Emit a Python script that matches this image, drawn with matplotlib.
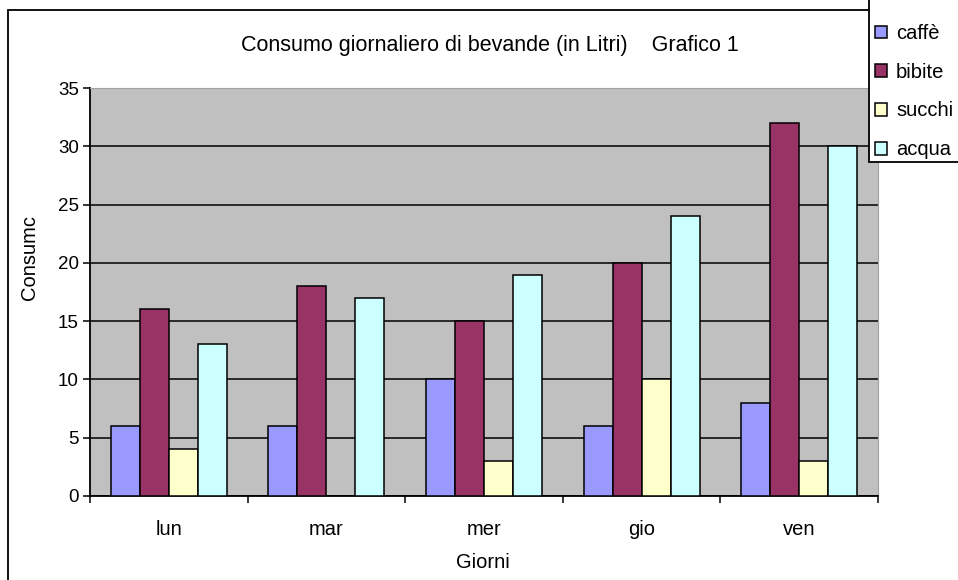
import matplotlib
matplotlib.use("Agg")
import matplotlib.pyplot as plt
from matplotlib.patches import Rectangle, Patch
import numpy as np

plt.rcParams['font.family'] = ['Liberation Sans', 'DejaVu Sans']

giorni = ["lun", "mar", "mer", "gio", "ven"]
serie = ["caffè", "bibite", "succhi", "acqua"]
caffe = [6, 6, 10, 6, 8]
bibite = [16, 18, 15, 20, 32]
succhi = [4, 0, 3, 10, 3]
acqua = [13, 17, 19, 24, 30]
colori = ["#9999FF", "#993366", "#FFFFCC", "#CCFFFF"]
y_ticks = [0, 5, 10, 15, 20, 25, 30, 35]

FS_TICK = 13.5
FS = 14.5
W, H = 958, 580
fig = plt.figure(figsize=(W / 100, H / 100), dpi=100)
fig.patch.set_facecolor("white")

# outer chart frame (extends past right/bottom edges)
fig.patches.append(Rectangle((8 / W, -0.05), 1.2, 1 - 10 / H + 0.05,
                             transform=fig.transFigure, fill=False,
                             edgecolor="black", linewidth=1.3, zorder=0))

ax = fig.add_axes([90 / W, (H - 496) / H, 788 / W, 408 / H])
ax.set_facecolor("#C0C0C0")

x = np.arange(len(giorni)) + 0.5
bw = 0.184
valori = [caffe, bibite, succhi, acqua]
handles = []
for i, (vals, col, nome) in enumerate(zip(valori, colori, serie)):
    ax.bar(x + (i - 1.5) * bw, vals, width=bw, color=col,
           edgecolor="black", linewidth=1.1, zorder=3)
    handles.append(Patch(facecolor=col, edgecolor="black", linewidth=1.1, label=nome))

ax.set_xlim(0, 5)
ax.set_ylim(0, 35)
ax.set_yticks(y_ticks)
ax.grid(axis="y", color="black", linewidth=1.1, zorder=1)
ax.set_axisbelow(True)

ax.set_xticks(x)
ax.set_xticklabels(giorni)
ax.set_xticks(np.arange(0, 6), minor=True)
ax.tick_params(axis="x", which="major", length=0, pad=17, labelsize=FS)
ax.tick_params(axis="x", which="minor", length=5, width=1.1, direction="out")
ax.tick_params(axis="y", length=5, width=1.1, direction="out", pad=3, labelsize=FS_TICK)

for s in ["left", "bottom"]:
    ax.spines[s].set_color("black")
    ax.spines[s].set_linewidth(1.3)
for s in ["top", "right"]:
    ax.spines[s].set_color("#A0A0A0")
    ax.spines[s].set_linewidth(0.8)

fig.text(490 / W, 1 - 45 / H, "Consumo giornaliero di bevande (in Litri)    Grafico 1",
         ha="center", va="center", fontsize=15.5)
fig.text(483 / W, 1 - 563 / H, "Giorni", ha="center", va="center", fontsize=FS)
fig.text(30 / W, 1 - 258 / H, "Consumc", ha="center", va="center",
         rotation=90, fontsize=FS)

# legend box: frame drawn separately so its top runs off the figure edge
fig.patches.append(Rectangle((869 / W, 1 - 162 / H), 0.2, 162 / H + 0.05,
                             transform=fig.transFigure, facecolor="white",
                             edgecolor="black", linewidth=1.3, zorder=4))
leg = fig.legend(handles=handles, loc="upper left",
                 bbox_to_anchor=(875 / W, 1 - 24 / H), frameon=False,
                 fontsize=FS, handlelength=0.6, handleheight=0.6,
                 handletextpad=0.45, labelspacing=0.98, borderpad=0.0,
                 borderaxespad=0)
leg.set_zorder(5)

fig.savefig("out.png", dpi=100)
